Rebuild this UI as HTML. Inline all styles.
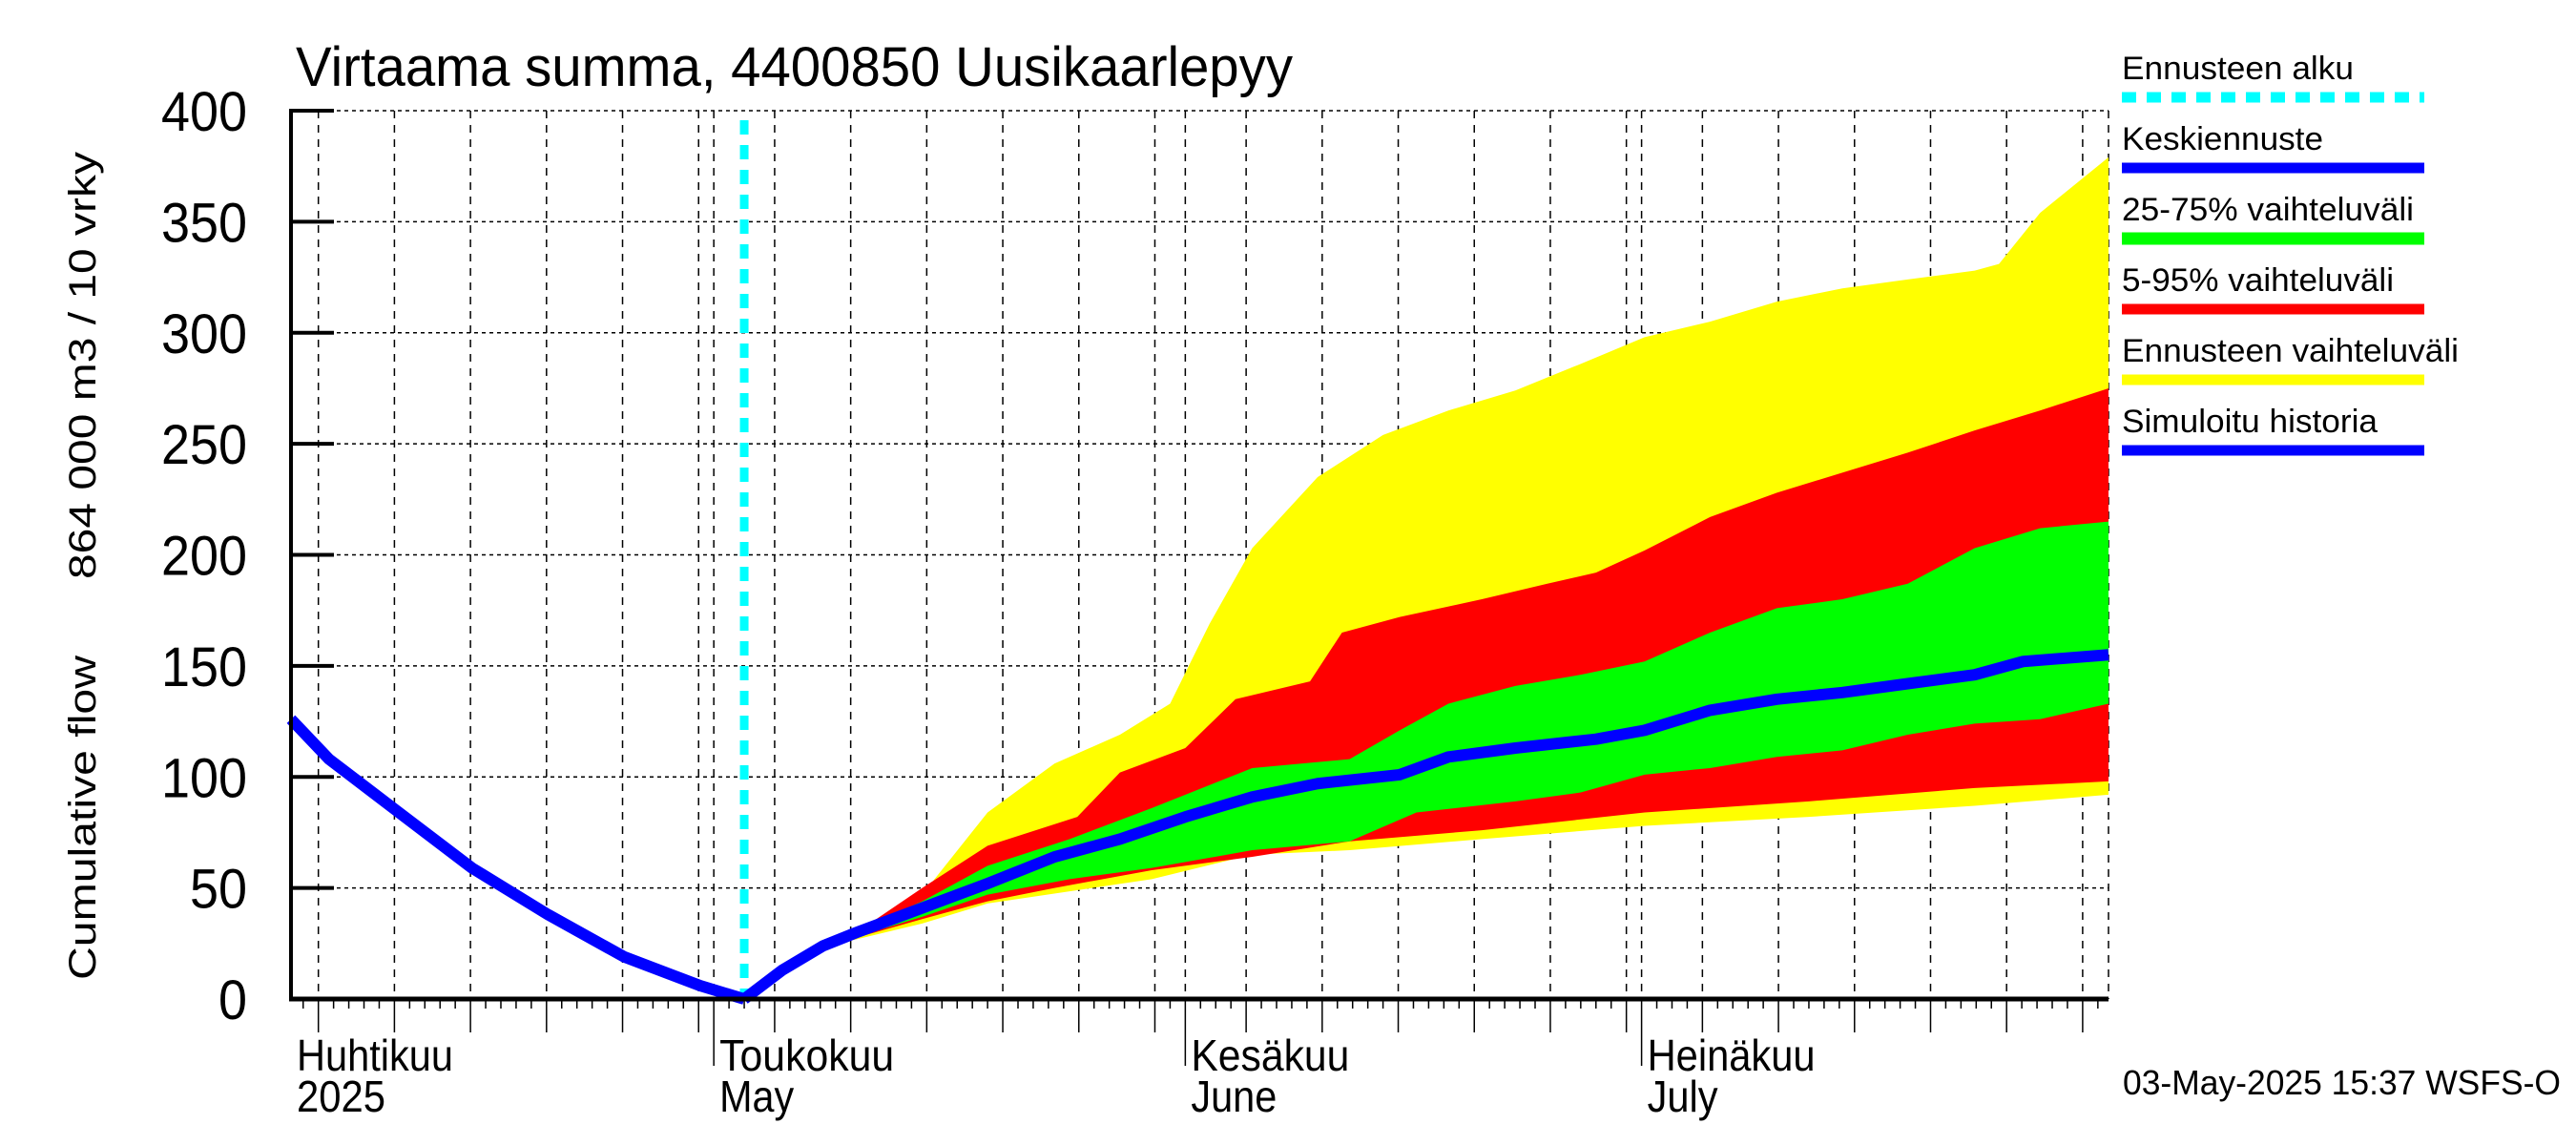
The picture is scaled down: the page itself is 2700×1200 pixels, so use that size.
<!DOCTYPE html>
<html><head><meta charset="utf-8"><style>
html,body{margin:0;padding:0;background:#fff;}
svg{display:block;font-family:"Liberation Sans",sans-serif;}
</style></head><body>
<svg id="chart" width="2700" height="1200" viewBox="0 0 2700 1200" xmlns="http://www.w3.org/2000/svg">
<rect width="2700" height="1200" fill="#fff"/>
<text x="310" y="90" font-size="58" textLength="1045" lengthAdjust="spacingAndGlyphs">Virtaama summa, 4400850 Uusikaarlepyy</text>
<g font-size="40">
<text transform="translate(100,1027) rotate(-90)" textLength="340" lengthAdjust="spacingAndGlyphs">Cumulative flow</text>
<text transform="translate(100,607) rotate(-90)" textLength="448" lengthAdjust="spacingAndGlyphs">864 000 m3 / 10 vrky</text>
</g>
<g id="grid"></g>
<g id="bands"></g>
<g id="lines"></g>
<g id="axes"></g>
<g id="legend"></g>
<text x="2225" y="1147" font-size="36" textLength="459" lengthAdjust="spacingAndGlyphs">03-May-2025 15:37 WSFS-O</text>
</svg>
<script>
const yTicks=[0,50,100,150,200,250,300,350,400];
const monthLabels=["Huhtikuu","Toukokuu","Kesäkuu","Heinäkuu"];
const monthLabels2=["2025","May","June","July"];
const monthStarts=[0,30,61,91];
const forecastStart=32;
const histDays=[2.2,4.7,9.1,14.1,19.1,24.1,29.1,32];
const histVals=[126,108,85,59,38,19,6,0];
const medDays=[32,34.5,37.2,39.4,43.7,48,52.4,56.7,61,65.4,69.7,75.1,78.3,82.7,88,91.2,95.5,99.9,104.2,108.5,112.9,116.1,121.7];
const medVals=[0,13,24,30,41,52,64,72,82,91,97,101,109,113,117,121,130,135,138,142,146,152,155];
const yelUpDays=[32,37,39.4,43.7,48,52.4,56.7,60,62.6,65.4,69.7,74,78.3,82.7,87,91.2,95.5,99.9,104.2,108.5,112.9,114.5,117.2,121.7];
const yelUpVals=[0,24,31,47,84,106,119,133,169,203,235,254,265,274,286,298,305,314,320,324,328,331,354,379];
const yelLoDays=[32,37,43.7,48,58.8,65.4,71.8,80.5,91.2,102,112.9,121.7];
const yelLoVals=[0,23,34,43,54,65,67,72,78,82,87,92];
const redUpDays=[32,37,39.4,43.7,48,53.9,56.7,61,64.3,69.2,71.3,75.1,80.5,84.8,88,91.2,95.5,99.9,104.2,108.5,112.9,117.2,121.7];
const redUpVals=[0,24,30,50,69,82,102,113,135,143,165,172,180,187,192,202,217,228,237,246,256,265,275];
const redLoDays=[32,37,43.7,48,52.4,58.8,65.4,71.8,80.5,91.2,102,112.9,121.7];
const redLoVals=[0,23,36,44,50,58,64,71,76,84,89,95,98];
const grnUpDays=[32,37,43.7,48,53.4,58.8,65.4,71.8,75.1,78.3,82.7,87,91.2,95.5,99.9,104.2,108.5,112.9,117.2,121.7];
const grnUpVals=[0,24,44,60,72,86,104,108,121,133,141,146,152,165,176,180,187,203,212,215];
const grnLoDays=[32,37,43.7,48,53.4,58.8,65.4,71.8,76.2,82.7,87,91.2,95.5,99.9,104.2,108.5,112.9,117.2,121.7];
const grnLoVals=[0,23,37,47,54,59,67,71,84,89,93,101,104,109,112,119,124,126,133];

const X0=305,X1=2210,D0=2.2,D1=121.7,Y0=1047,Y1=116,V1=400;
const xs=d=>X0+(d-D0)*(X1-X0)/(D1-D0);
const ys=v=>Y0-v*(Y0-Y1)/V1;
const NS="http://www.w3.org/2000/svg";
function mk(tag,attrs,parent){const e=document.createElementNS(NS,tag);for(const k in attrs)e.setAttribute(k,attrs[k]);parent.appendChild(e);return e;}
const grid=document.getElementById('grid'),bands=document.getElementById('bands'),lines=document.getElementById('lines'),axes=document.getElementById('axes'),legend=document.getElementById('legend');
const mdays=[30,31,30,31];
yTicks.forEach(v=>{const l=mk('line',{x1:X0,x2:X1,y1:ys(v),y2:ys(v),stroke:'#000','stroke-width':1.5,'stroke-dasharray':'4,4'},grid);

});
for(let m=0;m<4;m++){[1,5,10,15,20,25,30].forEach(dd=>{if(dd>mdays[m])return;const d=monthStarts[m]+dd-1;if(d<D0||d>D1+0.5)return;
const x=Math.min(xs(d),X1);const l=mk('line',{x1:x,x2:x,y1:Y1,y2:Y0,stroke:'#000','stroke-width':1.5,'stroke-dasharray':'8,7'},grid);

});}
mk('line',{x1:X1,x2:X1,y1:Y1,y2:Y0,stroke:'#000','stroke-width':1.5,'stroke-dasharray':'8,7'},grid);
function band(ud,uv,ld,lv,color,name){let pts=ud.map((d,i)=>xs(d)+','+ys(uv[i]));for(let i=ld.length-1;i>=0;i--)pts.push(xs(ld[i])+','+ys(lv[i]));
const p=mk('polygon',{points:pts.join(' '),fill:color},bands);

}
band(yelUpDays,yelUpVals,yelLoDays,yelLoVals,'#ffff00','band-forecast-range');
band(redUpDays,redUpVals,redLoDays,redLoVals,'#ff0000','band-5-95');
band(grnUpDays,grnUpVals,grnLoDays,grnLoVals,'#00ff00','band-25-75');
const cy=mk('line',{x1:xs(forecastStart),x2:xs(forecastStart),y1:Y1+10,y2:Y0,stroke:'#00ffff','stroke-width':9,'stroke-dasharray':'15,11'},lines);


const hl=mk('polyline',{points:histDays.map((d,i)=>xs(d)+','+ys(histVals[i])).join(' '),fill:'none',stroke:'#0000ff','stroke-width':12,'stroke-linejoin':'round'},lines);


const ml=mk('polyline',{points:medDays.map((d,i)=>xs(d)+','+ys(medVals[i])).join(' '),fill:'none',stroke:'#0000ff','stroke-width':12,'stroke-linejoin':'round'},lines);


mk('line',{x1:X0,x2:X0,y1:Y1-2,y2:Y0+2,stroke:'#000','stroke-width':4},axes);
mk('line',{x1:X0-2,x2:X1,y1:Y0,y2:Y0,stroke:'#000','stroke-width':5},axes);
yTicks.forEach(v=>{mk('line',{x1:X0,x2:X0+45,y1:ys(v),y2:ys(v),stroke:'#000','stroke-width':4},axes);
const t=mk('text',{x:259,y:ys(v)+21,'font-size':58,'text-anchor':'end',textLength:String(v).length*30,lengthAdjust:'spacingAndGlyphs'},axes);t.textContent=v;

});
for(let d=Math.ceil(D0);d<=Math.floor(D1);d++){let m=0;while(m<3&&d>=monthStarts[m+1])m++;const dd=d-monthStarts[m]+1;
let len=10;if(dd===1)len=70;else if(dd%5===0)len=35;
mk('line',{x1:xs(d),x2:xs(d),y1:Y0,y2:Y0+len,stroke:'#000','stroke-width':1.5},axes);}
const lw1=[164,183,166,176],lw2=[93,78,90,74];
monthStarts.forEach((s,i)=>{const x=Math.max(xs(s),X0)+6;
const a=mk('text',{x:x,y:1122,'font-size':46,textLength:lw1[i],lengthAdjust:'spacingAndGlyphs'},axes);a.textContent=monthLabels[i];


const b=mk('text',{x:x,y:1165,'font-size':46,textLength:lw2[i],lengthAdjust:'spacingAndGlyphs'},axes);b.textContent=monthLabels2[i];

});
const legNames=["Ennusteen alku","Keskiennuste","25-75% vaihteluväli","5-95% vaihteluväli","Ennusteen vaihteluväli","Simuloitu historia"];
const legColors=["#00ffff","#0000ff","#00ff00","#ff0000","#ffff00","#0000ff"];
const legW=[243,211,306,285,353,268];
legNames.forEach((n,i)=>{const yb=83+i*74;
const t=mk('text',{x:2224,y:yb,'font-size':34,textLength:legW[i],lengthAdjust:'spacingAndGlyphs'},legend);t.textContent=n;


const at={x1:2224,x2:2541,y1:yb+19,y2:yb+19,stroke:legColors[i],'stroke-width':i===2?13:11};if(i===0)at['stroke-dasharray']='15,11';
const l=mk('line',at,legend);

});
</script>
</body></html>
